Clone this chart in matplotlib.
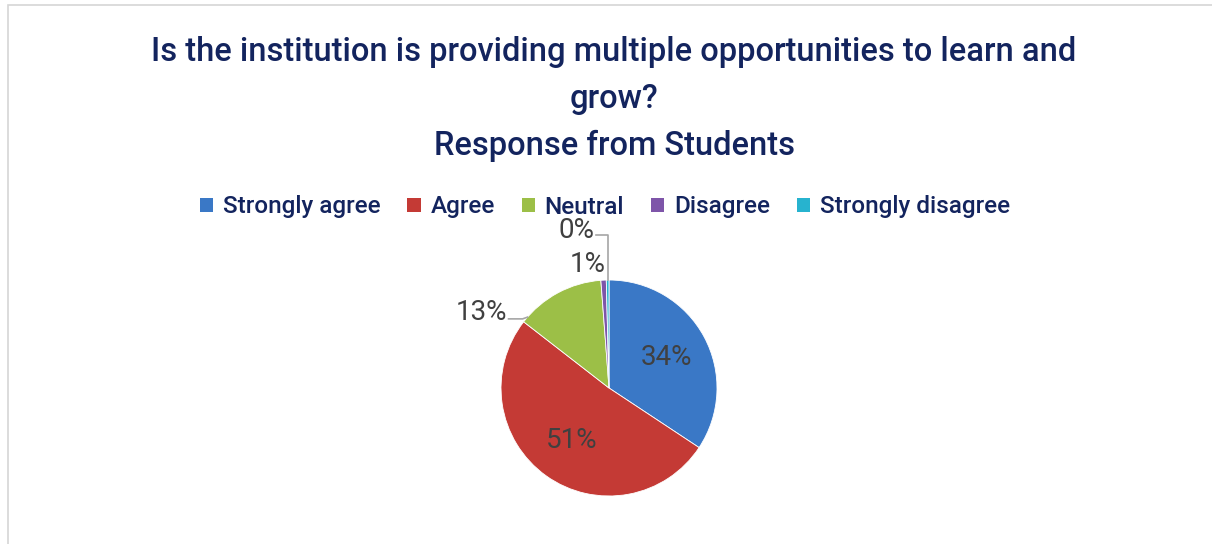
import numpy as np
import matplotlib
matplotlib.use('Agg')
import matplotlib.pyplot as plt
from matplotlib.patches import Patch, Rectangle

# data
categories = ['Strongly agree', 'Agree', 'Neutral', 'Disagree', 'Strongly disagree']
shares = [34.3, 51.2, 13.3, 0.8, 0.4]
pct_labels = ['34%', '51%', '13%', '1%', '0%']
colors = ['#3a78c6', '#c43a35', '#9cbf47', '#7e55a9', '#27b3cf']

title_lines = 'Is the institution is providing multiple opportunities to learn and\ngrow?\nResponse from Students'

W, H = 1212, 544
plt.rcParams['font.family'] = ['Roboto', 'DejaVu Sans']
fig = plt.figure(figsize=(W / 100, H / 100), dpi=100)

# light frame around chart area
fig.patches.append(Rectangle((8 / W, -0.05), 1.2, (H - 5) / H + 0.05, transform=fig.transFigure,
                             fill=False, edgecolor='#d6d6d6', linewidth=1.2))

# pie axes: center (609, 388) px, radius 108 px, limits +-1.6
cx, cy, r = 609, 388, 108
lim = 1.6
side = 2 * lim * r
ax = fig.add_axes([(cx - side / 2) / W, (H - cy - side / 2) / H, side / W, side / H])
ax.axis('off')

wedges, _ = ax.pie(shares, colors=colors, startangle=90, counterclock=False, radius=1.0,
                   wedgeprops=dict(linewidth=0.6, edgecolor='white'))
ax.set_xlim(-lim, lim)
ax.set_ylim(-lim, lim)
ax.set_aspect('equal')

label_color = '#404040'
# inside labels for the two big slices
for w, lab in zip(wedges[:2], pct_labels[:2]):
    ang = np.deg2rad((w.theta1 + w.theta2) / 2)
    ax.text(0.6 * np.cos(ang), 0.6 * np.sin(ang), lab, ha='center', va='center',
            fontsize=20, color=label_color)

# outside labels for small slices
out_pos = {2: (-1.18, 0.70), 3: (-0.20, 1.14), 4: (-0.30, 1.46)}
for i, (x, y) in out_pos.items():
    ax.text(x, y, pct_labels[i], ha='center', va='center', fontsize=20, color=label_color)

lead = '#a6a6a6'
ax.plot([-0.93, -0.80, -0.755], [0.64, 0.64, 0.656], color=lead, lw=1.2, clip_on=False)
ax.plot([-0.12, -0.01, -0.01], [1.42, 1.42, 1.0], color=lead, lw=1.2, clip_on=False)

navy = '#13245e'
fig.text(614 / W, 1 - 36 / H, title_lines, ha='center', va='top', fontsize=23.5, color=navy,
         linespacing=1.6, fontweight='medium')

handles = [Patch(facecolor=c, edgecolor='none') for c in colors]
fig.legend(handles, categories, loc='center', bbox_to_anchor=(605 / W, 1 - 207 / H), ncol=5,
           frameon=False, handlelength=0.55, handleheight=0.55, handletextpad=0.4,
           columnspacing=1.1, labelcolor=navy,
           prop={'family': ['Roboto', 'DejaVu Sans'], 'size': 17.5, 'weight': 'medium'})

fig.savefig('out.png', dpi=100)
